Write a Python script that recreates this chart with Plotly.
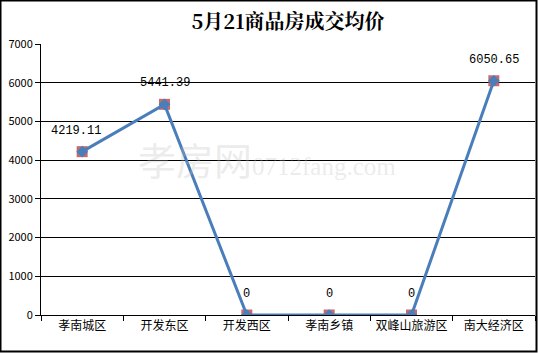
import plotly.graph_objects as go

categories = ["孝南城区", "开发东区", "开发西区", "孝南乡镇", "双峰山旅游区", "南大经济区"]
prices = [4219.11, 5441.39, 0, 0, 0, 6050.65]
labels = ["4219.11", "5441.39", "0", "0", "0", "6050.65"]
y_ticks = [0, 1000, 2000, 3000, 4000, 5000, 6000, 7000]
title_text = "5月21商品房成交均价"

W, H = 538, 353
ml, mr, mt, mb = 41, 3, 44, 38
pw, ph = W - ml - mr, H - mt - mb

fig = go.Figure()
fig.add_trace(go.Scatter(
    x=categories, y=prices, mode="markers",
    marker=dict(symbol="square", size=11, color="rgba(192,80,77,0.85)"),
    hoverinfo="skip", showlegend=False))
fig.add_trace(go.Scatter(
    x=categories, y=prices, mode="lines+markers",
    line=dict(color="#4A7EBB", width=3),
    marker=dict(symbol="diamond", size=9, color="#4A7EBB"),
    showlegend=False))

for c, v, t in zip(categories, prices, labels):
    fig.add_annotation(x=c, y=v, text=t, showarrow=False, yshift=21,
                       xshift=-6 if c == categories[0] else 0,
                       font=dict(family="Liberation Mono", size=12, color="#000"))

fig.add_annotation(xref="paper", yref="paper", x=(267 - ml) / pw, y=(H - mb - 158) / ph,
                   text="孝房网<span style='font-family:Liberation Serif;font-size:25px'>0712fang.com</span>",
                   showarrow=False, font=dict(family="Noto Sans CJK SC", size=38, color="rgba(190,190,190,0.3)"))

fig.add_shape(type="rect", xref="paper", yref="paper",
              x0=-ml / pw + 0.5 / pw, x1=1 + mr / pw - 1.5 / pw,
              y0=-mb / ph + 1.5 / ph, y1=1 + mt / ph - 0.5 / ph,
              line=dict(color="black", width=2), layer="above")

fig.update_layout(
    width=W, height=H,
    margin=dict(l=ml, r=mr, t=mt, b=mb),
    paper_bgcolor="white", plot_bgcolor="white",
    title=dict(text=title_text, x=0.5, xref="paper", xanchor="center", y=1 - 22 / H, yanchor="middle",
               font=dict(family="Noto Serif CJK SC, Noto Sans CJK SC", size=20, color="#000", weight="bold")),
    xaxis=dict(showline=True, linecolor="black", linewidth=1, ticks="outside", ticklen=5, tickcolor="black",
               tickson="boundaries", showgrid=False, range=[-0.5, 5.5],
               tickfont=dict(family="Noto Sans CJK SC", size=12, color="#000")),
    yaxis=dict(range=[0, 7000], tickvals=y_ticks, showline=True, linecolor="black", linewidth=1,
               ticks="outside", ticklen=5, tickcolor="black", showgrid=True, gridcolor="black", gridwidth=1,
               zeroline=False, tickfont=dict(family="Noto Sans CJK SC", size=11, color="#000")),
)

fig.write_html("out.html")
